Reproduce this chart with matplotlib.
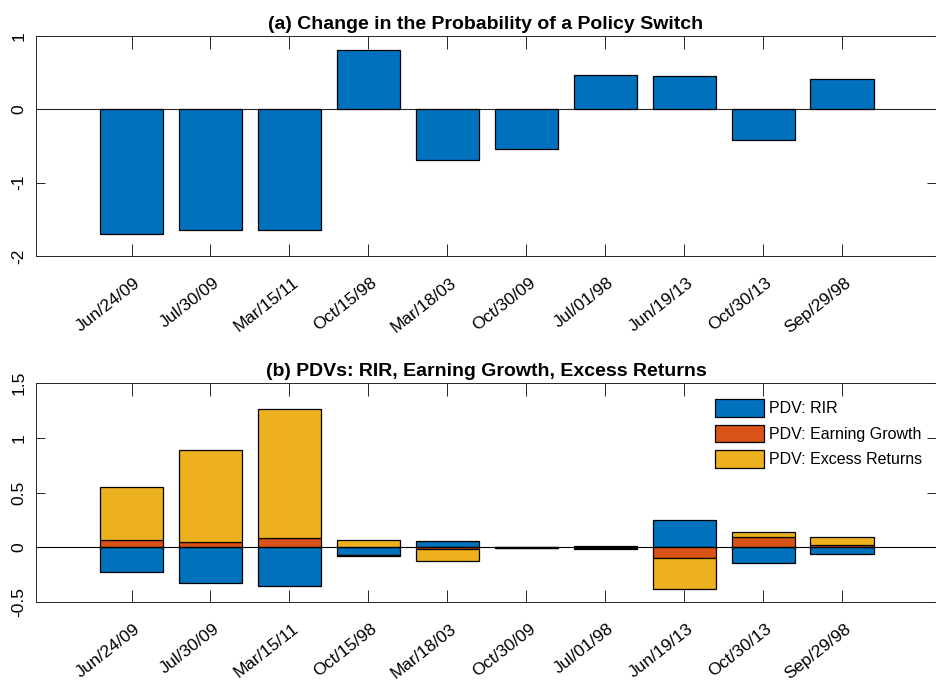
import numpy as np
import matplotlib
matplotlib.use('Agg')
import matplotlib.pyplot as plt
import matplotlib.transforms as mtransforms

plt.rcParams['font.family'] = ['Liberation Sans', 'DejaVu Sans']

dates = ['Jun/24/09', 'Jul/30/09', 'Mar/15/11', 'Oct/15/98', 'Mar/18/03',
         'Oct/30/09', 'Jul/01/98', 'Jun/19/13', 'Oct/30/13', 'Sep/29/98']
# panel (a)
prob_change = [-1.70, -1.65, -1.64, 0.81, -0.69, -0.54, 0.47, 0.46, -0.42, 0.415]
# panel (b)
pdv_rir = [-0.23, -0.325, -0.35, -0.07, 0.06, -0.005, 0.008, 0.25, -0.146, -0.06]
pdv_eg = [0.068, 0.05, 0.086, -0.008, -0.02, 0.002, -0.006, -0.10, 0.095, 0.022]
pdv_er = [0.48, 0.84, 1.18, 0.064, -0.11, -0.003, -0.008, -0.28, 0.048, 0.07]

c_blue = '#0072BD'
c_red = '#D95319'
c_yel = '#EDB120'
ax_col = '#262626'

x = np.arange(1, len(dates) + 1)

fig = plt.figure(figsize=(9.37, 6.88), dpi=100)
ax1 = fig.add_axes([36/937, 1 - 256/688, 900/937, 220/688])
ax2 = fig.add_axes([36/937, 1 - 602/688, 900/937, 219/688])


def style(ax, ylim, yticks, ylabels):
    ax.set_xlim(-0.21, 11.19)
    ax.set_ylim(*ylim)
    ax.set_yticks(yticks)
    ax.set_yticklabels(ylabels)
    ax.set_xticks(x)
    ax.set_xticklabels(dates)
    for s in ax.spines.values():
        s.set_color(ax_col)
        s.set_linewidth(0.7)
    ax.tick_params(axis='x', direction='in', length=9, width=0.7, color=ax_col,
                   top=True, pad=18, labelsize=12.5, labelcolor='black')
    ax.tick_params(axis='y', direction='in', length=6.5, width=0.7, color=ax_col,
                   right=True, pad=7, labelsize=12.5, labelrotation=90, labelcolor='black')
    for lbl in ax.get_xticklabels():
        lbl.set_rotation(38)
        lbl.set_ha('right')
        lbl.set_va('center')
        lbl.set_rotation_mode('anchor')
    off = mtransforms.ScaledTranslation(7/100, 0, fig.dpi_scale_trans)
    for lbl in ax.get_xticklabels():
        lbl.set_transform(lbl.get_transform() + off)
    for lbl in ax.get_yticklabels():
        lbl.set_va('center')


# (a)
ax1.bar(x, prob_change, width=0.8, color=c_blue, edgecolor='black', linewidth=0.9, zorder=2)
ax1.axhline(0, color=ax_col, linewidth=0.8, zorder=1)
style(ax1, (-2, 1), [-2, -1, 0, 1], ['-2', '-1', '0', '1'])
ax1.set_title('(a) Change in the Probability of a Policy Switch',
              fontsize=14, fontweight='bold', pad=5)

# (b) stacked, positives up and negatives down
series = [(pdv_rir, c_blue, 'PDV: RIR'),
          (pdv_eg, c_red, 'PDV: Earning Growth'),
          (pdv_er, c_yel, 'PDV: Excess Returns')]
pos_base = np.zeros(len(x))
neg_base = np.zeros(len(x))
for vals, col, lab in series:
    v = np.array(vals)
    base = np.where(v >= 0, pos_base, neg_base)
    ax2.bar(x, v, bottom=base, width=0.8, color=col, edgecolor='black',
            linewidth=0.9, label=lab, zorder=2)
    pos_base = pos_base + np.where(v >= 0, v, 0)
    neg_base = neg_base + np.where(v < 0, v, 0)
ax2.axhline(0, color='black', linewidth=0.8, zorder=3)
style(ax2, (-0.5, 1.5), [-0.5, 0, 0.5, 1, 1.5], ['-0.5', '0', '0.5', '1', '1.5'])
ax2.set_title('(b) PDVs: RIR, Earning Growth, Excess Returns',
              fontsize=14, fontweight='bold', pad=5)
ax2.legend(loc='upper left', bbox_to_anchor=(0.754, 0.925), frameon=False,
           fontsize=11.5, handlelength=3.1, handleheight=1.3, handletextpad=0.3,
           labelspacing=0.5, borderpad=0, borderaxespad=0)

fig.savefig('out.png', dpi=100)
